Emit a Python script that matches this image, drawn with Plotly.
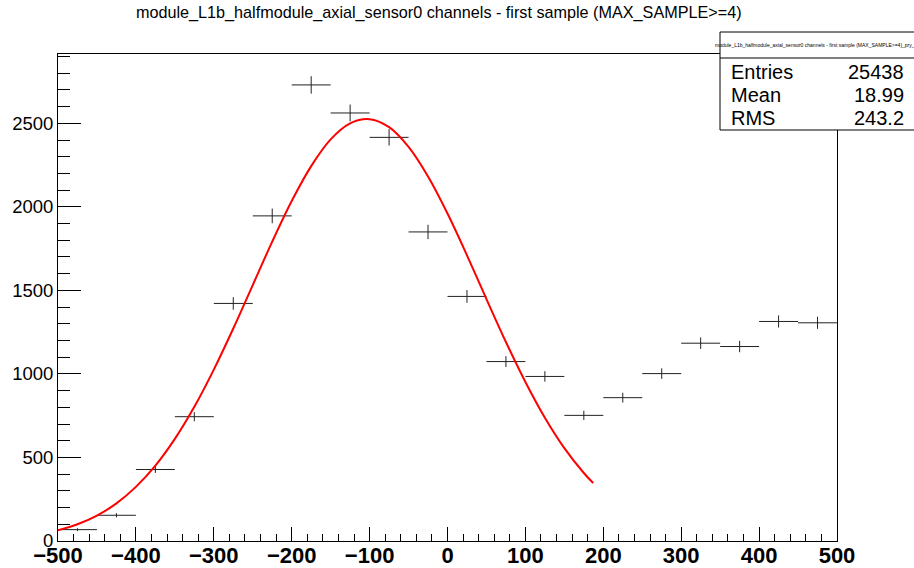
import numpy as np
import plotly.graph_objects as go

# ---------------- data ----------------
bin_centers = [-475, -425, -375, -325, -275, -225, -175, -125, -75, -25,
               25, 75, 125, 175, 225, 275, 325, 375, 425, 475]
bin_counts = [68, 154, 428, 744, 1422, 1946, 2730, 2562, 2416, 1850,
              1464, 1074, 985, 752, 858, 1002, 1184, 1164, 1314, 1306]
bin_half_width = 25

fit_x = [-500, -475, -450, -425, -400, -375, -350, -325, -300, -275, -250,
         -225, -200, -175, -150, -125, -100, -75, -50, -25, 0, 25, 50, 75,
         100, 125, 150, 175, 187]
fit_y = [64, 100, 152, 225, 324, 451, 611, 803, 1026, 1272, 1532,
         1792, 2035, 2244, 2404, 2500, 2525, 2477, 2359, 2182, 1960, 1710, 1448, 1191,
         952, 738, 556, 407, 347]

title_text = "module_L1b_halfmodule_axial_sensor0 channels - first sample (MAX_SAMPLE>=4)"
stats_title = "module_L1b_halfmodule_axial_sensor0 channels - first sample (MAX_SAMPLE>=4)_pry_"
stats_labels = ["Entries", "Mean", "RMS"]
stats_values = ["25438", "18.99", "243.2"]

x_range = [-500, 500]
y_range = [0, 2915]

# ---------------- layout geometry ----------------
W, H = 914, 568
ML, MR, MT, MB = 58, 77, 54, 27
PW = W - ML - MR
PH = H - MT - MB


def px(xp):
    return (xp - ML) / PW


def py(yp):
    return (H - MB - yp) / PH


FONT = "Liberation Sans, Arial, Helvetica, sans-serif"

fig = go.Figure()

fig.add_trace(go.Scatter(
    x=bin_centers, y=bin_counts, mode="markers",
    marker=dict(size=1, color="rgba(0,0,0,0)"),
    error_x=dict(type="constant", value=bin_half_width, color="#222222",
                 thickness=1, width=0),
    error_y=dict(type="data", array=list(np.sqrt(bin_counts)), color="#222222",
                 thickness=1, width=0),
    showlegend=False, hoverinfo="skip",
))

fig.add_trace(go.Scatter(
    x=fit_x, y=fit_y, mode="lines",
    line=dict(color="#ff0000", width=2, shape="spline"),
    showlegend=False, hoverinfo="skip",
))

shapes = [
    dict(type="rect", xref="paper", yref="paper",
         x0=px(720), x1=px(917), y0=py(130), y1=py(32),
         fillcolor="white", line=dict(color="black", width=1), layer="above"),
    dict(type="line", xref="paper", yref="paper",
         x0=px(720), x1=px(917), y0=py(58), y1=py(58),
         line=dict(color="black", width=1), layer="above"),
]

annotations = [
    dict(text=title_text, xref="paper", yref="paper", x=px(439), y=py(13),
         xanchor="center", yanchor="middle", showarrow=False,
         font=dict(family=FONT, size=16.2, color="black")),
    dict(text=stats_title, xref="paper", yref="paper", x=px(815), y=py(45),
         xanchor="center", yanchor="middle", showarrow=False,
         font=dict(family=FONT, size=5, color="black")),
]
row_y = [72, 95, 118]
for lab, val, yy in zip(stats_labels, stats_values, row_y):
    annotations.append(dict(text=lab, xref="paper", yref="paper", x=px(729), y=py(yy),
                            xanchor="left", yanchor="middle", showarrow=False,
                            font=dict(family=FONT, size=20, color="black")))
    annotations.append(dict(text=val, xref="paper", yref="paper", x=px(906), y=py(yy),
                            xanchor="right", yanchor="middle", showarrow=False,
                            font=dict(family=FONT, size=20, color="black")))

fig.update_layout(
    width=W, height=H,
    margin=dict(l=ML, r=MR, t=MT, b=MB, autoexpand=False),
    paper_bgcolor="white", plot_bgcolor="white",
    shapes=shapes, annotations=annotations,
    xaxis=dict(range=x_range, showgrid=False, zeroline=False,
               showline=True, linecolor="black", linewidth=1, mirror=True,
               ticks="inside", ticklen=14, tickcolor="black", tickwidth=1,
               dtick=100, tick0=0, ticklabelstandoff=-5,
               tickfont=dict(family=FONT, size=22, color="black", weight="bold"),
               minor=dict(ticks="inside", ticklen=7, dtick=20, tickcolor="black",
                          tickwidth=1, showgrid=False)),
    yaxis=dict(range=y_range, showgrid=False, zeroline=False,
               showline=True, linecolor="black", linewidth=1, mirror=True,
               ticks="inside", ticklen=23, tickcolor="black", tickwidth=1,
               dtick=500, tick0=0,
               tickfont=dict(family=FONT, size=18.5, color="black"),
               minor=dict(ticks="inside", ticklen=12, dtick=100, tickcolor="black",
                          tickwidth=1, showgrid=False)),
)

fig.write_html("out.html")
